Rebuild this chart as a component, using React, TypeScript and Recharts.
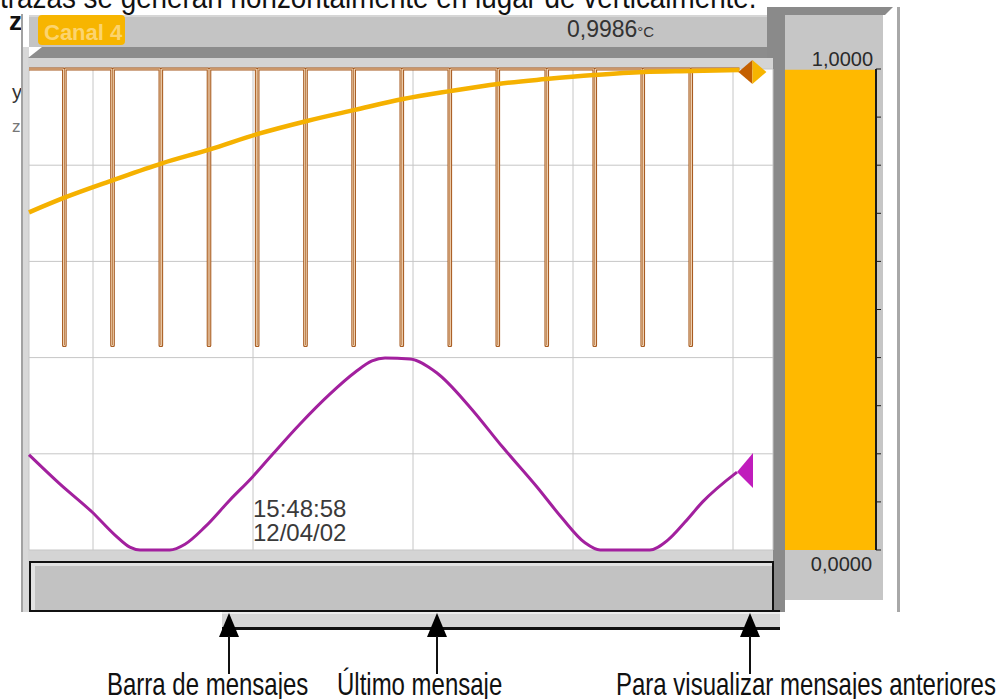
import { LineChart, Line, XAxis, YAxis, CartesianGrid, BarChart, Bar } from 'recharts'

// time axis in seconds, one grid division = 10 s
const TIME_DOMAIN = [-4, 42.5]
const TIME_TICKS = [0, 10, 20, 30, 40]
const LEVEL_TICKS = [0.2, 0.4, 0.6, 0.8]

// pulse channel (brown)
const PULSE_TIMES = [-1.84, 1.17, 4.19, 7.2, 10.21, 13.23, 16.24, 19.25, 22.25, 25.25, 28.31, 31.31, 34.31, 37.31]
const PULSE_LENGTH = 0.1
const PULSE_HIGH = 1
const PULSE_LOW = 0.425
const PULSE_END = 40.4

// Canal 4 (amber)
const CURVE_TIMES = [-4, -1.75, 1.25, 4.31, 7.31, 10.31, 13.375, 16.375, 19.375, 22.3, 25.3, 28.3, 31.3, 34.4, 37.4, 40.4]
const CURVE_VALUES = [0.702, 0.733, 0.769, 0.804, 0.833, 0.865, 0.892, 0.915, 0.9375, 0.954, 0.969, 0.979, 0.9875, 0.994, 0.996, 0.998]

// sine channel (purple)
const SINE_TIMES = [-4, -2.06, -0.06, 1.375, 2.3, 2.94, 4.8, 5.75, 7, 8.56, 10, 11.25, 12.94, 14.8, 16.4, 17.44, 18.25, 19.8, 21.5, 23.56, 25.6, 27.75, 29.3, 30.75, 31.7, 34.8, 35.94, 37, 38.1, 40.25]
const SINE_VALUES = [0.198, 0.137, 0.079, 0.031, 0.006, 0, 0, 0.012, 0.048, 0.104, 0.153, 0.2, 0.262, 0.324, 0.37, 0.393, 0.399, 0.397, 0.368, 0.297, 0.214, 0.131, 0.067, 0.015, 0, 0, 0.021, 0.058, 0.1, 0.162]

// bar display
const BAR_CHANNEL = ['Canal 4']
const BAR_VALUE = [0.9986]
const BAR_TICKS = [0, 0.1, 0.2, 0.3, 0.4, 0.5, 0.6, 0.7, 0.8, 0.9, 1]

const TIME_LABEL = ['15:48:58', '12/04/02']
const CALLOUTS = ['Barra de mensajes', 'Último mensaje', 'Para visualizar mensajes anteriores']

const FONT = '"Liberation Sans", Arial, sans-serif'

const squareData: { t: number; v: number }[] = [{ t: TIME_DOMAIN[0], v: PULSE_HIGH }]
PULSE_TIMES.forEach((p) => {
  squareData.push(
    { t: p, v: PULSE_HIGH },
    { t: p, v: PULSE_LOW },
    { t: p + PULSE_LENGTH, v: PULSE_LOW },
    { t: p + PULSE_LENGTH, v: PULSE_HIGH }
  )
})
squareData.push({ t: PULSE_END, v: PULSE_HIGH })

const curveData = CURVE_TIMES.map((t, i) => ({ t, v: CURVE_VALUES[i] }))
const sineData = SINE_TIMES.map((t, i) => ({ t, v: SINE_VALUES[i] }))
const barData = BAR_CHANNEL.map((name, i) => ({ name, value: BAR_VALUE[i] }))

function fmt(v: number) {
  return v.toFixed(4).replace('.', ',')
}

const DiamondDot = (props: any) => {
  const { cx, cy, index } = props
  if (index !== curveData.length - 1) return <g key={`d-${index}`} />
  const x = cx + 13
  const y = cy + 2
  return (
    <g key={`d-${index}`}>
      <polygon points={`${x - 14},${y} ${x},${y - 12} ${x},${y + 12}`} fill="#c45f00" />
      <polygon points={`${x},${y - 12} ${x + 14},${y} ${x},${y + 12}`} fill="#f7b500" />
    </g>
  )
}

const TriangleDot = (props: any) => {
  const { cx, cy, index } = props
  if (index !== sineData.length - 1) return <g key={`s-${index}`} />
  return (
    <polygon
      key={`s-${index}`}
      points={`${cx},${cy} ${cx + 16},${cy - 19} ${cx + 16},${cy + 16}`}
      fill="#c01cbc"
    />
  )
}

const ScaleTick = (props: any) => {
  const { x, y, payload } = props
  if (payload.value === 1)
    return (
      <text x={x - 10} y={y - 3} textAnchor="end" fontSize={20} fill="#2a2a2a" fontFamily={FONT}>
        {fmt(payload.value)}
      </text>
    )
  if (payload.value === 0)
    return (
      <text x={x - 11} y={y + 21} textAnchor="end" fontSize={20} fill="#2a2a2a" fontFamily={FONT}>
        {fmt(payload.value)}
      </text>
    )
  return <g />
}

const ARROW_X = [229, 437, 750]
const CALLOUT_X = [107, 337, 616]

export default function App() {
  return (
    <div style={{ position: 'absolute', left: 0, top: 0, width: 1004, height: 699, background: '#fff', overflow: 'hidden', fontFamily: FONT }}>
      <svg width={1004} height={699} style={{ position: 'absolute', left: 0, top: 0 }}>
        {/* cut text of the page behind */}
        <text transform="translate(0,8) scale(0.87,1)" fontSize={32} fill="#111" fontFamily={FONT}>
          trazas se generan horizontalmente en lugar de verticalmente.
        </text>
        <text x={9} y={30} fontSize={26} fontWeight="bold" fill="#111" fontFamily={FONT}>z</text>
        <text x={12} y={99} fontSize={20} fill="#333" fontFamily={FONT}>y</text>
        <text x={12} y={132} fontSize={17} fill="#777" fontFamily={FONT}>z</text>

        {/* left frame */}
        <rect x={21} y={14} width={2} height={598} fill="#a2a2a2" />
        <rect x={23} y={47} width={6} height={565} fill="#d8d8d8" />

        {/* header */}
        <rect x={29} y={15} width={738} height={32} fill="#c4c4c4" />
        <rect x={29} y={15} width={738} height={2} fill="#d6d6d6" />
        <rect x={38} y={15} width={87} height={30} rx={4} fill="#f7b500" />
        <text x={44} y={40} fontSize={22} fontWeight="bold" fill="#fcd46e" fontFamily={FONT}>Canal 4</text>
        <text x={567} y={37} fontSize={23} fill="#333" fontFamily={FONT}>
          {fmt(BAR_VALUE[0])}
          <tspan fontSize={15}>°C</tspan>
        </text>
        <polygon points="28,58 42,47 773,47 773,58" fill="#8c8c8c" />
        <rect x={28} y={58} width={745} height={11} fill="#d4d4d4" />

        {/* plot background and lower band */}
        <rect x={29} y={69} width={744} height={481} fill="#fff" />
        <rect x={28} y={550} width={745} height={12} fill="#d4d4d4" />

        {/* right panel */}
        <rect x={767} y={7} width={18} height={51} fill="#8a8a8a" />
        <rect x={773} y={58} width={12} height={554} fill="#8a8a8a" />
        <polygon points="767,7 893,7 885,15 767,15" fill="#8a8a8a" />
        <rect x={785} y={15} width={98} height={585} fill="#c6c6c6" />
        <rect x={897} y={7} width={3} height={605} fill="#a8a8a8" />

        {/* message bar */}
        <rect x={30} y={562} width={743} height={49} fill="#c2c2c2" stroke="#111" strokeWidth={2} />
        <rect x={31} y={563} width={741} height={3} fill="#e2e2e2" />
        <rect x={31} y={563} width={4} height={47} fill="#e2e2e2" />
        <rect x={29} y={610} width={751} height={2} fill="#111" />
        <rect x={222} y={612} width={558} height={15} fill="#d6d6d6" />
        <rect x={222} y={612} width={558} height={2} fill="#ececec" />
        <rect x={222} y={627} width={558} height={3} fill="#111" />

        {/* time stamp */}
        <text x={253} y={517} fontSize={24} fill="#3a3a3a" fontFamily={FONT}>{TIME_LABEL[0]}</text>
        <text x={253} y={541} fontSize={24} fill="#3a3a3a" fontFamily={FONT}>{TIME_LABEL[1]}</text>

        {/* callouts */}
        {ARROW_X.map((x) => (
          <g key={x}>
            <polygon points={`${x},613 ${x - 10},637 ${x + 10},637`} fill="#000" />
            <line x1={x} y1={636} x2={x} y2={674} stroke="#111" strokeWidth={2} />
          </g>
        ))}
        {CALLOUTS.map((c, i) => (
          <text key={c} transform={`translate(${CALLOUT_X[i]},695) scale(0.75,1)`} fontSize={32} fill="#111" fontFamily={FONT}>
            {c}
          </text>
        ))}
      </svg>

      <div style={{ position: 'absolute', left: 9, top: 49 }}>
        <LineChart width={784} height={521} margin={{ top: 20, right: 20, bottom: 20, left: 20 }}>
          <XAxis dataKey="t" type="number" domain={TIME_DOMAIN} ticks={TIME_TICKS} hide allowDuplicatedCategory={false} />
          <YAxis type="number" domain={[0, 1]} ticks={LEVEL_TICKS} hide />
          <CartesianGrid stroke="#c6c6c6" strokeWidth={1} />
          <Line data={squareData} dataKey="v" stroke="#a4561a" strokeWidth={3} strokeLinejoin="round" dot={false} isAnimationActive={false} />
          <Line data={squareData} dataKey="v" stroke="#f2d6b6" strokeWidth={1} strokeLinejoin="round" dot={false} isAnimationActive={false} />
          <Line data={sineData} dataKey="v" type="monotone" stroke="#a2209e" strokeWidth={3} dot={TriangleDot} isAnimationActive={false} />
          <Line data={curveData} dataKey="v" type="monotone" stroke="#f5b100" strokeWidth={4.5} dot={DiamondDot} isAnimationActive={false} />
        </LineChart>
      </div>

      <div style={{ position: 'absolute', left: 785, top: 49 }}>
        <BarChart width={103} height={531} data={barData} margin={{ top: 20, right: 0, bottom: 30, left: 0 }} barCategoryGap={0}>
          <XAxis dataKey="name" hide />
          <YAxis
            orientation="right"
            type="number"
            domain={[0, 1]}
            ticks={BAR_TICKS}
            width={12}
            axisLine={{ stroke: '#1a1a1a', strokeWidth: 2 }}
            tickLine={{ stroke: '#1a1a1a' }}
            tickSize={5}
            tick={ScaleTick}
            interval={0}
          />
          <Bar dataKey="value" fill="#ffb900" isAnimationActive={false} />
        </BarChart>
      </div>
    </div>
  )
}
